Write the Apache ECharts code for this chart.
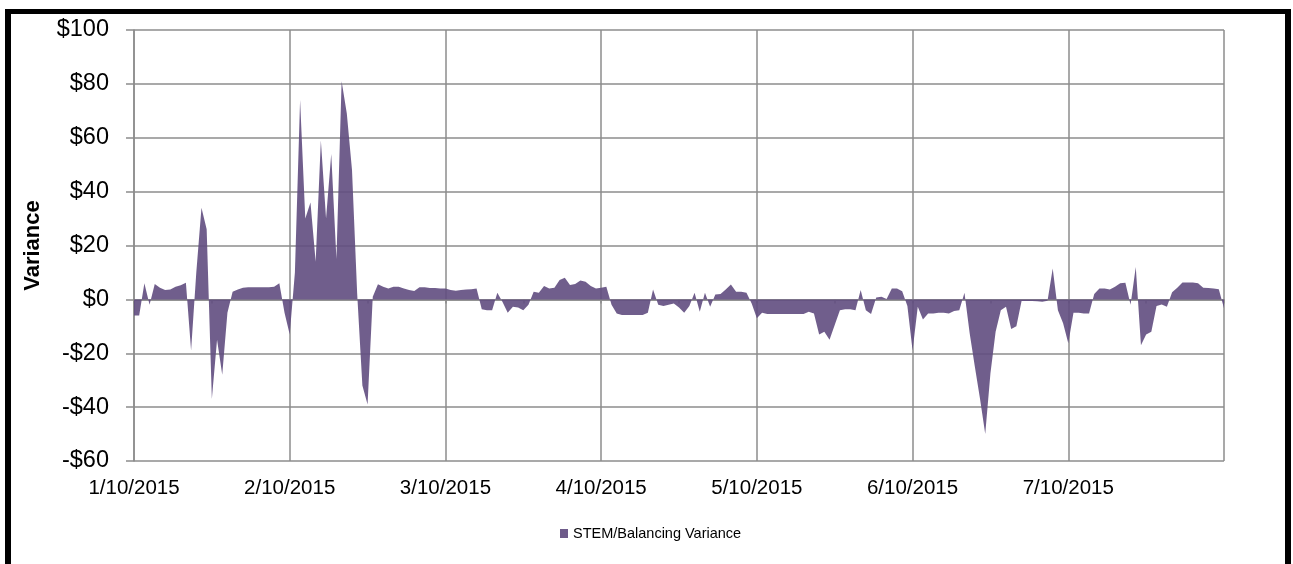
<!DOCTYPE html>
<html>
<head>
<meta charset="utf-8">
<title>STEM/Balancing Variance</title>
<script src="https://cdn.jsdelivr.net/npm/echarts/dist/echarts.min.js"></script>
<style>
    html, body { margin: 0; padding: 0; background: #fff; }
    #wrap { position: relative; width: 1293px; height: 564px; overflow: hidden; }
    #myAreaChart { width: 1293px; height: 564px; }
    /* black frame round the chart */
    #frame {
        position: absolute; left: 5px; top: 9px; width: 1286px; height: 620px;
        box-sizing: border-box; border: 5px solid #000; border-right-width: 6px; border-left-width: 6px;
        pointer-events: none;
    }
</style>
</head>
<body>
<div id="wrap">
    <div id="myAreaChart"></div>
    <div id="frame"></div>
</div>
<script>
// x-axis tick labels, one per gridline (30 points apart)
var tickLabels = ['1/10/2015', '2/10/2015', '3/10/2015', '4/10/2015', '5/10/2015', '6/10/2015', '7/10/2015'];
var pointsPerTick = 30;
var seriesName = 'STEM/Balancing Variance';

// daily variance values
var variance = [
    -6, -6, 6, -2, 5.7, 4.3, 3.5, 3.7, 4.7, 5.2,
    6.2, -19, 10, 34, 26, -37, -15, -28, -5, 2.8,
    3.7, 4.3, 4.5, 4.5, 4.5, 4.5, 4.5, 4.7, 6, -5,
    -13, 10, 74, 30, 36, 14, 59, 30, 54, 15,
    81, 69, 48, 2, -32, -39, 1, 5.6, 4.7, 4,
    4.7, 4.7, 4, 3.5, 3.1, 4.5, 4.5, 4.2, 4.2, 4,
    4, 3.5, 3.2, 3.5, 3.7, 3.8, 4, -3.7, -4, -4,
    2.5, -1, -5, -2.7, -3, -4, -2, 2.8, 2.5, 5,
    4, 4.3, 7.2, 8, 5.3, 5.7, 7, 6.5, 5, 4,
    4.3, 4.7, -2, -5.2, -5.8, -5.8, -5.8, -5.8, -5.8, -5,
    3.7, -2, -2.5, -2, -1.5, -3, -5, -2.5, 2.5, -4.6,
    2.5, -2.7, 1.8, 2, 3.7, 5.5, 2.8, 2.8, 2.5, -1.5,
    -7, -5, -5.4, -5.4, -5.4, -5.4, -5.4, -5.4, -5.4, -5.4,
    -4.6, -5.2, -13, -12, -15, -9.5, -4, -3.7, -3.7, -4,
    3.5, -4, -5.4, 0.7, 1, 0.1, 4, 4, 3, -2.5,
    -19, -2.7, -7.5, -5.2, -5.2, -5, -5, -5.2, -4.3, -4,
    2.5, -12.6, -25, -37, -50, -27.5, -12, -4, -2.7, -11,
    -10, -0.6, -0.6, -0.6, -0.7, -0.9, -0.5, 11.5, -4, -8.9,
    -16.3, -5, -5, -5.2, -5.2, 2, 4, 4, 3.7, 4.7,
    6, 6.2, -2, 12, -17, -13, -12, -2.5, -1.9, -2.7,
    2.6, 4.3, 6.3, 6.3, 6.3, 6, 4.3, 4.2, 4, 3.8,
    -3.3
];

function initVarianceChart() {
    var box = document.getElementById('myAreaChart');
    var myChart = echarts.init(box);
    var font = 'Liberation Sans, Arial, sans-serif';
    var gridColor = '#8c8c8c';
    var xMax = pointsPerTick * tickLabels.length;

    var data = variance.map(function (v, i) { return [i, v]; });

    var option = {
        backgroundColor: '#fff',
        animation: false,
        textStyle: { fontFamily: font },
        grid: {
            left: 134,
            right: 69,
            top: 30,
            bottom: 103
        },
        legend: {
            left: 555,
            top: 521,
            icon: 'rect',
            itemWidth: 8,
            itemHeight: 9,
            itemGap: 5,
            textStyle: { fontSize: 14.5, color: '#000', fontFamily: font },
            data: [seriesName]
        },
        xAxis: [{
            type: 'value',
            min: 0,
            max: xMax,
            interval: pointsPerTick,
            axisLine: { show: false, onZero: false },
            axisTick: { show: false },
            splitLine: { show: true, lineStyle: { color: gridColor, width: 1.5 } },
            axisLabel: {
                fontSize: 20.5,
                color: '#000',
                margin: 17,
                formatter: function (v) {
                    return tickLabels[Math.round(v / pointsPerTick)] || '';
                }
            }
        }, {
            // the axis line at zero with its small ticks
            type: 'value',
            position: 'top',
            min: 0,
            max: xMax,
            interval: pointsPerTick / 2,
            axisLine: { show: true, onZero: true, lineStyle: { color: gridColor, width: 1.5 } },
            axisTick: { show: true, inside: true, length: 4, lineStyle: { color: gridColor, width: 1.5 } },
            axisLabel: { show: false },
            splitLine: { show: false }
        }],
        yAxis: {
            type: 'value',
            min: -60,
            max: 100,
            interval: 20,
            name: 'Variance',
            nameLocation: 'middle',
            nameGap: 90,
            nameTextStyle: { fontSize: 22, fontWeight: 'bold', color: '#000', fontFamily: font },
            axisLine: { show: true, lineStyle: { color: gridColor, width: 1.5 } },
            axisTick: { show: true, length: 8, lineStyle: { color: gridColor, width: 1.5 } },
            splitLine: { show: true, lineStyle: { color: gridColor, width: 1.5 } },
            axisLabel: {
                fontSize: 23.5,
                color: '#000',
                margin: 25,
                formatter: function (v) {
                    return v < 0 ? '-$' + (-v) : '$' + v;
                }
            }
        },
        series: [{
            name: seriesName,
            type: 'line',
            data: data,
            showSymbol: false,
            symbol: 'none',
            lineStyle: { width: 0 },
            itemStyle: { color: '#6e5b8a' },
            areaStyle: { color: 'rgba(96,76,127,0.9)', opacity: 1 }
        }]
    };

    myChart.setOption(option);
}

initVarianceChart();
</script>
</body>
</html>
